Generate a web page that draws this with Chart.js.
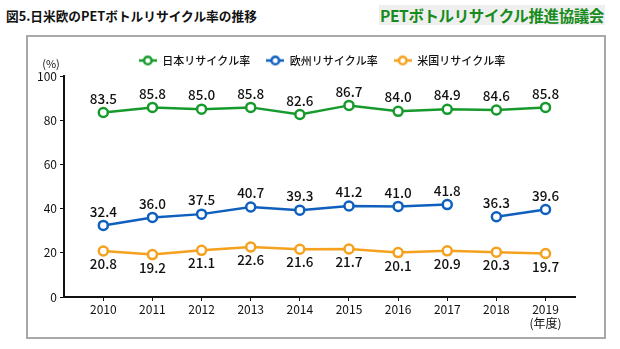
<!DOCTYPE html>
<html>
<head>
<meta charset="utf-8">
<script src="https://cdn.jsdelivr.net/npm/chart.js@4"></script>
<style>
  body { margin: 0; background: #fff; font-family: "Noto Sans CJK JP", sans-serif; }
  #wrap { position: relative; width: 620px; height: 349px; overflow: hidden; }
  #title { position: absolute; left: 6px; top: 6px; font-size: 12.7px; font-weight: 700; color: #111; white-space: nowrap; }
  #org { position: absolute; left: 379px; top: 5px; width: 226px; height: 20px; background: #efefef;
         color: #178c1c; font-size: 15.5px; font-weight: 700; line-height: 20px; text-align: center;
         letter-spacing: -0.4px; white-space: nowrap; }
  #frame { position: absolute; left: 26px; top: 35px; width: 576px; height: 300px; border: 2px solid #a8a8a8; }
  canvas { position: absolute; left: 0; top: 0; }
</style>
</head>
<body>
<div id="wrap">
  <div id="title">図5.日米欧のPETボトルリサイクル率の推移</div>
  <div id="org">PETボトルリサイクル推進協議会</div>
  <div id="frame"></div>
  <canvas id="grafico" width="620" height="349"></canvas>
</div>
<script>
const anos = [2010, 2011, 2012, 2013, 2014, 2015, 2016, 2017, 2018, 2019];
const rotulosAnos = ["2010", "2011", "2012", "2013", "2014", "2015", "2016", "2017", "2018", ["2019", "(年度)"]];
const japao = [83.5, 85.8, 85.0, 85.8, 82.6, 86.7, 84.0, 84.9, 84.6, 85.8];
const europa = [32.4, 36.0, 37.5, 40.7, 39.3, 41.2, 41.0, 41.8, 36.3, 39.6];
const eua = [20.8, 19.2, 21.1, 22.6, 21.6, 21.7, 20.1, 20.9, 20.3, 19.7];
const europaQuebra = 2017; // linha europeia interrompida depois deste ano
const yTicks = [0, 20, 40, 60, 80, 100];

const VERDE = "#169a2c";
const AZUL = "#0f5fbf";
const LARANJA = "#f5a11e";
const FONTE = "'Noto Sans CJK JP', sans-serif";

// ícone da legenda: traço com círculo vazado
function iconeLegenda(cor) {
  const c = document.createElement("canvas");
  c.width = 18; c.height = 12;
  const ctx = c.getContext("2d");
  ctx.strokeStyle = cor;
  ctx.lineWidth = 2.5;
  ctx.beginPath(); ctx.moveTo(0, 6); ctx.lineTo(18, 6); ctx.stroke();
  ctx.fillStyle = "#fff";
  ctx.beginPath(); ctx.arc(9, 6, 3.8, 0, Math.PI * 2); ctx.fill(); ctx.stroke();
  return c;
}

function serie(label, valores, cor, deslocamento) {
  return {
    label: label,
    data: anos.map((a, i) => ({ x: a, y: valores[i] })),
    borderColor: cor,
    backgroundColor: "#fff",
    borderWidth: 2.5,
    pointRadius: 4.5,
    pointBorderWidth: 2.5,
    pointBackgroundColor: "#fff",
    pointBorderColor: cor,
    tension: 0,
    clip: false,
    yAxisID: "y",
    rotuloY: deslocamento,
    icone: iconeLegenda(cor),
  };
}

const eur = serie("欧州リサイクル率", europa, AZUL, -14);
eur.segment = {
  borderColor: (ctx) => (anos[ctx.p0DataIndex] === europaQuebra ? "rgba(0,0,0,0)" : undefined),
};

// valores escritos acima/abaixo de cada ponto
const rotulosValores = {
  id: "rotulosValores",
  afterDatasetsDraw(chart) {
    const ctx = chart.ctx;
    ctx.save();
    ctx.font = "500 13.5px " + FONTE;
    ctx.fillStyle = "#111";
    ctx.textAlign = "center";
    ctx.textBaseline = "middle";
    chart.data.datasets.forEach((ds, i) => {
      chart.getDatasetMeta(i).data.forEach((pt, j) => {
        ctx.fillText(ds.data[j].y.toFixed(1), pt.x, pt.y + ds.rotuloY);
      });
    });
    const y = chart.scales.y;
    ctx.font = "11px " + FONTE;
    ctx.fillText("(%)", y.right - 13, y.top - 12);
    ctx.restore();
  },
};

new Chart(document.getElementById("grafico").getContext("2d"), {
  type: "line",
  data: {
    datasets: [
      serie("日本リサイクル率", japao, VERDE, -14),
      eur,
      serie("米国リサイクル率", eua, LARANJA, 13),
    ],
  },
  options: {
    responsive: false,
    animation: false,
    layout: { padding: { top: 39, right: 0, left: 24, bottom: 0 } },
    plugins: {
      legend: {
        position: "top",
        labels: {
          usePointStyle: true,
          pointStyleWidth: 18,
          boxHeight: 11,
          padding: 16,
          color: "#111",
          font: { family: FONTE, size: 11, weight: "500" },
          generateLabels(chart) {
            const itens = Chart.defaults.plugins.legend.labels.generateLabels(chart);
            itens.forEach((it) => (it.pointStyle = chart.data.datasets[it.datasetIndex].icone));
            return itens;
          },
        },
      },
      tooltip: { enabled: false },
    },
    scales: {
      x: {
        type: "linear",
        min: 2009.2,
        max: 2019.6,
        afterBuildTicks: (s) => { s.ticks = anos.map((a) => ({ value: a })); },
        afterFit: (s) => { s.height = 52; },
        border: { color: "#111", width: 2 },
        grid: { drawOnChartArea: false, color: "#111", tickLength: 4, lineWidth: 1 },
        ticks: {
          color: "#111",
          padding: 1,
          maxRotation: 0,
          autoSkip: false,
          font: { family: FONTE, size: 12 },
          callback: (v) => rotulosAnos[anos.indexOf(v)],
        },
      },
      y: {
        min: 0,
        max: 100,
        afterBuildTicks: (s) => { s.ticks = yTicks.map((v) => ({ value: v })); },
        afterFit: (s) => { s.width = 40; },
        border: { color: "#111", width: 2 },
        grid: { drawOnChartArea: false, color: "#111", tickLength: 4, lineWidth: 1 },
        ticks: {
          color: "#111",
          padding: 3,
          font: { family: FONTE, size: 12 },
        },
      },
      // eixo vazio à direita, só reserva a margem
      margem: {
        position: "right",
        afterFit: (s) => { s.width = 45; },
        border: { display: false },
        grid: { display: false },
        ticks: { display: false },
      },
    },
  },
  plugins: [rotulosValores],
});
</script>
</body>
</html>
